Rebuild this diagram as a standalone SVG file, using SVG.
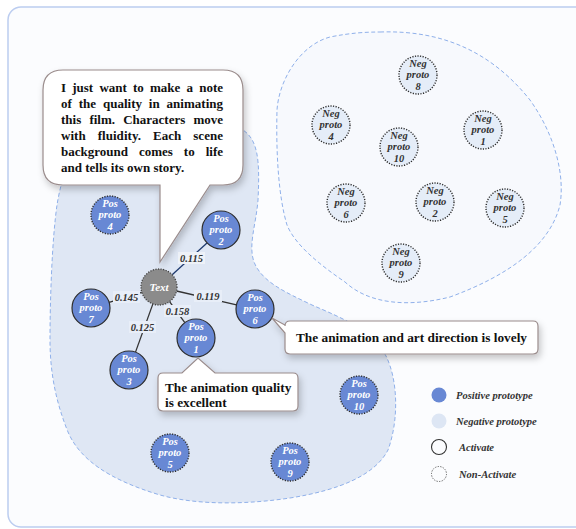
<svg xmlns="http://www.w3.org/2000/svg" width="576" height="529" viewBox="0 0 576 529">
<defs>
<filter id="sh" x="-20%" y="-20%" width="150%" height="160%">
<feDropShadow dx="2" dy="4" stdDeviation="3.5" flood-color="#000" flood-opacity="0.22"/>
</filter>
<style>
.blob{stroke:#8fb0ea;stroke-width:1;stroke-dasharray:4 2.5}
.pos{fill:#6888d4}
.act{stroke:#2e2e2e;stroke-width:1.2}
.non{stroke:#2e2e2e;stroke-width:1.4;stroke-dasharray:1.2 1.4}
.neg{fill:#e5edf8}
.nl{font-family:"Liberation Serif",serif;font-style:italic;font-weight:bold;font-size:10.5px;text-anchor:middle}
.pl{fill:#ffffff}
.ngl{fill:#333333}
.edge{stroke:#333;stroke-width:1.3}
.el{font-family:"Liberation Serif",serif;font-style:italic;font-weight:bold;font-size:10.5px;fill:#333;text-anchor:middle}
.ebg{fill:#e8eef8}
.call{fill:#ffffff;stroke:#9a8c8c;stroke-width:1.2;filter:url(#sh)}
.ct{font-family:"Liberation Serif",serif;font-weight:bold;font-size:13px;fill:#111}
.lg{font-family:"Liberation Serif",serif;font-style:italic;font-weight:bold;font-size:10.5px;fill:#333}
</style>
</defs>
<rect x="8" y="7" width="590" height="520" rx="13" fill="#fbfcfe" stroke="#bccdf0" stroke-width="1.5"/>
<g id="neg-region">
<path class="blob" fill="#f7f9fd" d="M380,32 C440,30 490,50 530,100 C555,135 565,175 560,205 C550,245 510,275 450,297 C410,307 370,305 345,282 C320,265 295,245 287,225 C278,195 276,150 277,110 C279,80 300,45 330,37 C350,33 365,32 380,32 Z"/>
</g>
<g id="pos-region">
<path class="blob" fill="#dfe7f4" d="M90,130 C150,120 222,116 243,130 C258,140 260,160 258,200 C256,225 248,245 254,262 C262,282 285,292 312,305 C342,318 372,330 386,356 C398,380 399,420 388,450 C375,475 340,490 290,498 C250,504 200,506 160,495 C110,480 80,460 68,432 C55,400 50,370 50,340 C50,300 52,240 57,205 C61,180 70,150 90,130 Z"/>
</g>
<g id="connectors">
<line class="edge" x1="172.2" y1="274.8" x2="207" y2="242.9" stroke="#1e3a6e" style="stroke:#1e3a6e"/>
<line class="edge" x1="141.8" y1="292.3" x2="109.1" y2="302.4"/>
<line class="edge" x1="152.9" y1="303.9" x2="135.5" y2="352.1"/>
<line class="edge" x1="169.6" y1="301.6" x2="184.8" y2="322.6"/>
<line class="edge" x1="176.5" y1="291" x2="236.5" y2="304.8"/>
<rect class="ebg" x="178" y="252" width="27" height="12" style="fill:#eef2f8"/>
<text class="el" x="191.5" y="262">0.115</text>
<rect class="ebg" x="113" y="291" width="27" height="12"/>
<text class="el" x="126.5" y="301">0.145</text>
<rect class="ebg" x="129" y="321" width="27" height="12"/>
<text class="el" x="142.5" y="331">0.125</text>
<rect class="ebg" x="164" y="305" width="27" height="12"/>
<text class="el" x="177.5" y="315">0.158</text>
<rect class="ebg" x="194" y="290" width="28" height="12"/>
<text class="el" x="208" y="300">0.119</text>
</g>
<g id="text-node">
<circle cx="159" cy="287" r="18" fill="#8b8b8b" stroke="#444" stroke-width="1.3" stroke-dasharray="1.2 1.4"/>
<text class="nl pl" x="159" y="291" style="font-size:11px">Text</text>
</g>
<g id="pos-proto-1"><circle class="pos act" cx="196" cy="338" r="19"/><text class="nl pl" x="196" y="330">Pos<tspan x="196" dy="11">proto</tspan><tspan x="196" dy="11.5">1</tspan></text></g>
<g id="pos-proto-2"><circle class="pos act" cx="221" cy="230" r="19"/><text class="nl pl" x="221" y="222">Pos<tspan x="221" dy="11">proto</tspan><tspan x="221" dy="11.5">2</tspan></text></g>
<g id="pos-proto-3"><circle class="pos act" cx="129" cy="370" r="19"/><text class="nl pl" x="129" y="362">Pos<tspan x="129" dy="11">proto</tspan><tspan x="129" dy="11.5">3</tspan></text></g>
<g id="pos-proto-4"><circle class="pos non" cx="110" cy="215" r="19"/><text class="nl pl" x="110" y="207">Pos<tspan x="110" dy="11">proto</tspan><tspan x="110" dy="11.5">4</tspan></text></g>
<g id="pos-proto-5"><circle class="pos non" cx="170" cy="453" r="19"/><text class="nl pl" x="170" y="445">Pos<tspan x="170" dy="11">proto</tspan><tspan x="170" dy="11.5">5</tspan></text></g>
<g id="pos-proto-6"><circle class="pos act" cx="255" cy="309" r="19"/><text class="nl pl" x="255" y="301">Pos<tspan x="255" dy="11">proto</tspan><tspan x="255" dy="11.5">6</tspan></text></g>
<g id="pos-proto-7"><circle class="pos act" cx="91" cy="308" r="19"/><text class="nl pl" x="91" y="300">Pos<tspan x="91" dy="11">proto</tspan><tspan x="91" dy="11.5">7</tspan></text></g>
<g id="pos-proto-9"><circle class="pos non" cx="290" cy="462" r="19"/><text class="nl pl" x="290" y="454">Pos<tspan x="290" dy="11">proto</tspan><tspan x="290" dy="11.5">9</tspan></text></g>
<g id="pos-proto-10"><circle class="pos non" cx="359" cy="395" r="19"/><text class="nl pl" x="359" y="387">Pos<tspan x="359" dy="11">proto</tspan><tspan x="359" dy="11.5">10</tspan></text></g>
<g id="neg-proto-1"><circle class="neg non" cx="483" cy="130" r="19"/><text class="nl ngl" x="483" y="122">Neg<tspan x="483" dy="11">proto</tspan><tspan x="483" dy="11.5">1</tspan></text></g>
<g id="neg-proto-2"><circle class="neg non" cx="435" cy="202" r="19"/><text class="nl ngl" x="435" y="194">Neg<tspan x="435" dy="11">proto</tspan><tspan x="435" dy="11.5">2</tspan></text></g>
<g id="neg-proto-4"><circle class="neg non" cx="331" cy="125" r="19"/><text class="nl ngl" x="331" y="117">Neg<tspan x="331" dy="11">proto</tspan><tspan x="331" dy="11.5">4</tspan></text></g>
<g id="neg-proto-5"><circle class="neg non" cx="505" cy="208" r="19"/><text class="nl ngl" x="505" y="200">Neg<tspan x="505" dy="11">proto</tspan><tspan x="505" dy="11.5">5</tspan></text></g>
<g id="neg-proto-6"><circle class="neg non" cx="346" cy="203" r="19"/><text class="nl ngl" x="346" y="195">Neg<tspan x="346" dy="11">proto</tspan><tspan x="346" dy="11.5">6</tspan></text></g>
<g id="neg-proto-8"><circle class="neg non" cx="418" cy="75" r="19"/><text class="nl ngl" x="418" y="67">Neg<tspan x="418" dy="11">proto</tspan><tspan x="418" dy="11.5">8</tspan></text></g>
<g id="neg-proto-9"><circle class="neg non" cx="401" cy="263" r="19"/><text class="nl ngl" x="401" y="255">Neg<tspan x="401" dy="11">proto</tspan><tspan x="401" dy="11.5">9</tspan></text></g>
<g id="neg-proto-10"><circle class="neg non" cx="399" cy="147" r="19"/><text class="nl ngl" x="399" y="139">Neg<tspan x="399" dy="11">proto</tspan><tspan x="399" dy="11.5">10</tspan></text></g>
<g id="callout-review">
<path class="call" d="M63,70 H223 Q243,70 243,90 V165 Q243,185 223,185 H210 L160,262 L160,185 H63 Q43,185 43,165 V90 Q43,70 63,70 Z"/>
<text class="ct" x="61" y="92" textLength="162" lengthAdjust="spacing" style="word-spacing:3px">I just want to make a note</text>
<text class="ct" x="61" y="108" textLength="162" lengthAdjust="spacing" style="word-spacing:3.6px">of the quality in animating</text>
<text class="ct" x="61" y="124" textLength="162" lengthAdjust="spacing" style="word-spacing:4.9px">this film. Characters move</text>
<text class="ct" x="61" y="140" textLength="162" lengthAdjust="spacing" style="word-spacing:8.7px">with fluidity. Each scene</text>
<text class="ct" x="61" y="156" textLength="162" lengthAdjust="spacing" style="word-spacing:7.7px">background comes to life</text>
<text class="ct" x="61" y="172">and tells its own story.</text>
</g>
<g id="callout-quality">
<path class="call" d="M163,373 H182 L198,358 L215,373 H293 Q298,373 298,378 V406 Q298,411 293,411 H163 Q158,411 158,406 V378 Q158,373 163,373 Z"/>
<text class="ct" x="165" y="392" style="font-size:13.3px">The animation quality</text>
<text class="ct" x="165" y="407" style="font-size:13.3px">is excellent</text>
</g>
<g id="callout-art">
<path class="call" d="M290,321 H533 Q538,321 538,326 V349 Q538,354 533,354 H290 Q285,354 285,349 V333 L272,318 L285,325 V326 Q285,321 290,321 Z"/>
<text class="ct" x="296" y="342" style="font-size:13.3px">The animation and art direction is lovely</text>
</g>
<g id="legend">
<circle cx="439" cy="395" r="7.5" fill="#6888d4"/>
<text class="lg" x="456" y="398.5">Positive prototype</text>
<circle cx="439" cy="421" r="7.5" fill="#dde6f4"/>
<text class="lg" x="456" y="424.5">Negative prototype</text>
<circle cx="439" cy="447" r="7.5" fill="none" stroke="#333" stroke-width="1.1"/>
<text class="lg" x="459" y="450.5">Activate</text>
<circle cx="439" cy="474" r="7.5" fill="none" stroke="#555" stroke-width="1" stroke-dasharray="1.2 1.4"/>
<text class="lg" x="459" y="477.5">Non-Activate</text>
</g>
</svg>
